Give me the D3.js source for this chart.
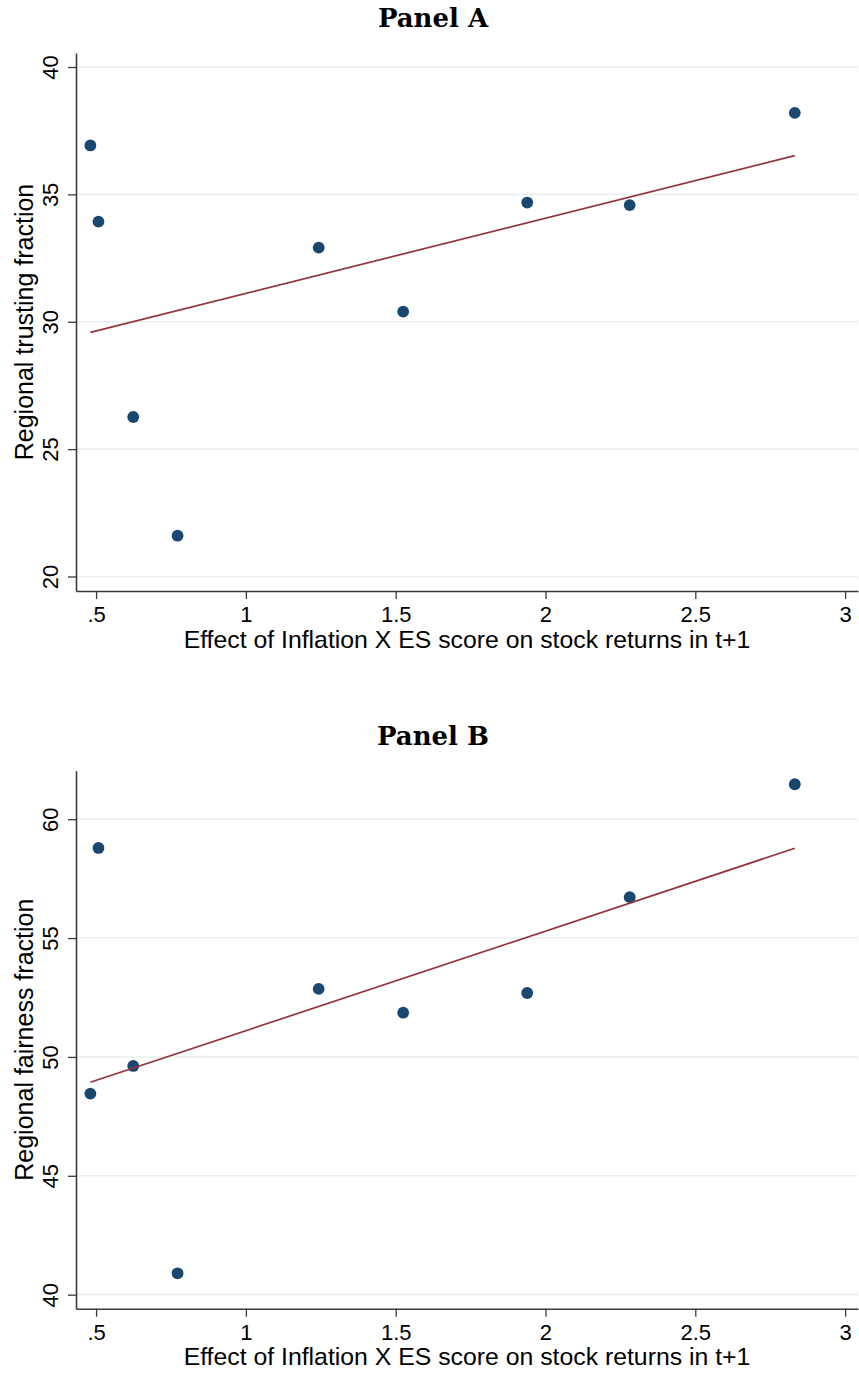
<!DOCTYPE html>
<html>
<head>
<meta charset="utf-8">
<script src="https://cdn.jsdelivr.net/npm/d3@7"></script>
<style>
  body { margin: 0; background: #fff; }
  svg { display: block; }
</style>
</head>
<body>
<svg id="chart" width="859" height="1373"></svg>
<script>
// x values shared by both panels (effect of inflation x ES score)
var effect = [0.481, 0.508, 0.624, 0.772, 1.243, 1.525, 1.939, 2.281, 2.832];
// panel A: regional trusting fraction
var trusting = [36.92, 33.93, 26.26, 21.60, 32.91, 30.40, 34.68, 34.58, 38.20];
// panel B: regional fairness fraction
var fairness = [48.46, 58.79, 49.62, 40.90, 52.86, 51.86, 52.69, 56.72, 61.47];

var xTicks = [0.5, 1, 1.5, 2, 2.5, 3];
var yTicksA = [20, 25, 30, 35, 40];
var yTicksB = [40, 45, 50, 55, 60];

var sans = "'Liberation Sans', Arial, Helvetica, sans-serif";
var svg = d3.select("#chart");

var left = 76, right = 858, plotH = 538;

var x = d3.scaleLinear().domain([0.433, 3.043]).range([left, right]);

function fmt(d) {
  return String(d).replace(/^0\./, ".");
}

// simple least squares fit
function fit(xs, ys) {
  var mx = d3.mean(xs), my = d3.mean(ys);
  var sxy = 0, sxx = 0;
  for (var i = 0; i < xs.length; i++) {
    sxy += (xs[i] - mx) * (ys[i] - my);
    sxx += (xs[i] - mx) * (xs[i] - mx);
  }
  var b = sxy / sxx;
  return function (v) { return my + b * (v - mx); };
}

function drawPanel(top, title, ylabel, yvals, yticks, ydomain) {
  var g = svg.append("g");
  var bottom = top + plotH;
  var y = d3.scaleLinear().domain(ydomain).range([bottom, top]);

  g.append("text")
    .attr("x", 433)
    .attr("y", top - 26)
    .attr("text-anchor", "middle")
    .attr("font-family", "'DejaVu Serif', serif")
    .attr("font-weight", "bold")
    .attr("font-size", "26px")
    .attr("fill", "#000")
    .text(title);

  // gridlines
  g.append("g")
    .selectAll("line")
    .data(yticks)
    .enter()
    .append("line")
    .attr("x1", left)
    .attr("x2", right)
    .attr("y1", function (d) { return y(d); })
    .attr("y2", function (d) { return y(d); })
    .attr("stroke", "#e8f0f3")
    .attr("stroke-width", 1.6);

  var ya = g.append("g")
    .attr("transform", "translate(" + left + ",0)")
    .call(d3.axisLeft(y).tickValues(yticks).tickSize(8).tickSizeOuter(0).tickFormat(fmt));
  ya.selectAll("text")
    .attr("transform", "rotate(-90)")
    .attr("x", 0)
    .attr("y", -18)
    .attr("dy", 0)
    .attr("text-anchor", "middle");

  var xa = g.append("g")
    .attr("transform", "translate(0," + bottom + ")")
    .call(d3.axisBottom(x).tickValues(xTicks).tickSize(8).tickSizeOuter(0).tickFormat(fmt));
  xa.selectAll("text")
    .attr("y", 31)
    .attr("dy", 0);

  [ya, xa].forEach(function (a) {
    a.attr("font-family", sans).attr("font-size", "22px");
    a.select(".domain").attr("stroke", "#3a3a3a").attr("stroke-width", 1.6);
    a.selectAll(".tick line").attr("stroke", "#3a3a3a").attr("stroke-width", 1.3);
    a.selectAll("text").attr("fill", "#000");
  });

  g.append("text")
    .attr("transform", "translate(33," + (top + bottom) / 2 + ") rotate(-90)")
    .attr("text-anchor", "middle")
    .attr("font-family", sans)
    .attr("font-size", "25px")
    .attr("fill", "#000")
    .text(ylabel);

  g.append("text")
    .attr("x", (left + right) / 2)
    .attr("y", bottom + 56.5)
    .attr("text-anchor", "middle")
    .attr("font-family", sans)
    .attr("font-size", "24.8px")
    .attr("fill", "#000")
    .text("Effect of Inflation X ES score on stock returns in t+1");

  var pts = effect.map(function (d, i) { return [d, yvals[i]]; });

  g.append("g")
    .selectAll("circle")
    .data(pts)
    .enter()
    .append("circle")
    .attr("cx", function (d) { return x(d[0]); })
    .attr("cy", function (d) { return y(d[1]); })
    .attr("r", 5.9)
    .style("fill", "#1a476f");

  var f = fit(effect, yvals);
  var ends = d3.extent(effect);
  g.append("line")
    .attr("x1", x(ends[0]))
    .attr("y1", y(f(ends[0])))
    .attr("x2", x(ends[1]))
    .attr("y2", y(f(ends[1])))
    .attr("stroke", "#90353b")
    .attr("stroke-width", 1.7);
}

drawPanel(53, "Panel A", "Regional trusting fraction", trusting, yTicksA, [19.43, 40.55]);
drawPanel(770.7, "Panel B", "Regional fairness fraction", fairness, yTicksB, [39.41, 62.04]);
</script>
</body>
</html>
